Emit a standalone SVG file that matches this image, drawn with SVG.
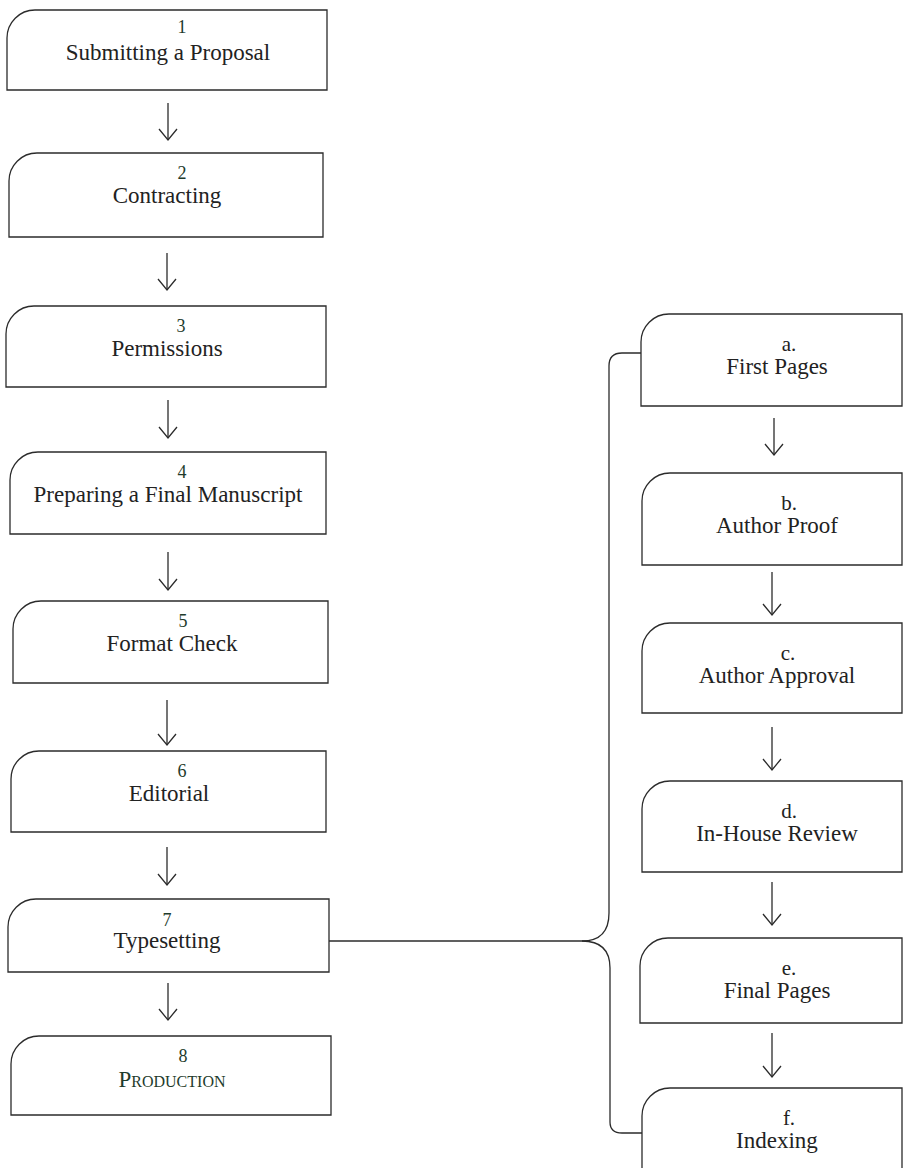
<svg xmlns="http://www.w3.org/2000/svg" width="903" height="1168" viewBox="0 0 903 1168">
<defs>
<style>
.box{fill:#fff;stroke:#2b2b2b;stroke-width:1.3}
.lbl{font-family:"Liberation Serif",serif;font-size:23px;fill:#222;text-anchor:middle}
.num{font-family:"Liberation Serif",serif;font-size:18px;fill:#1e3b2c;text-anchor:middle}
.let{font-family:"Liberation Serif",serif;font-size:21px;fill:#222;text-anchor:middle}
.sc{font-variant:small-caps;fill:#1e3b2c}
.conn{fill:none;stroke:#2b2b2b;stroke-width:1.3}
</style>
<marker id="ah" markerUnits="userSpaceOnUse" markerWidth="16" markerHeight="20" refX="14" refY="10" orient="auto" viewBox="0 0 16 20">
<path d="M3,1 L14,10 L3,19" fill="none" stroke="#2b2b2b" stroke-width="1.3"/>
</marker>
</defs>
<rect width="903" height="1168" fill="#fff"/>

<g id="connectors">
<line class="conn" x1="168" y1="103" x2="168" y2="140" marker-end="url(#ah)"/>
<line class="conn" x1="167" y1="253" x2="167" y2="290" marker-end="url(#ah)"/>
<line class="conn" x1="168" y1="400" x2="168" y2="438" marker-end="url(#ah)"/>
<line class="conn" x1="168" y1="552" x2="168" y2="590" marker-end="url(#ah)"/>
<line class="conn" x1="167" y1="700" x2="167" y2="745" marker-end="url(#ah)"/>
<line class="conn" x1="167" y1="847" x2="167" y2="885" marker-end="url(#ah)"/>
<line class="conn" x1="168" y1="983" x2="168" y2="1020" marker-end="url(#ah)"/>
<line class="conn" x1="774" y1="418" x2="774" y2="455" marker-end="url(#ah)"/>
<line class="conn" x1="772" y1="572" x2="772" y2="615" marker-end="url(#ah)"/>
<line class="conn" x1="772" y1="727" x2="772" y2="770" marker-end="url(#ah)"/>
<line class="conn" x1="772" y1="882" x2="772" y2="925" marker-end="url(#ah)"/>
<line class="conn" x1="772" y1="1033" x2="772" y2="1077" marker-end="url(#ah)"/>
<path class="conn" d="M329,941 L582,941"/>
<path class="conn" d="M641,353 L622,353 Q609,353 609,366 L609,913 Q609,941 582,941"/>
<path class="conn" d="M582,941 Q610,941 610,968 L610,1122 Q610,1133 622,1133 L642,1133"/>
</g>

<g id="n1"><path class="box" d="M7,90 L7,38 A28,28 0 0 1 35,10 L327,10 L327,90 Z"/><text class="num" x="182" y="33">1</text><text class="lbl" x="168" y="60">Submitting a Proposal</text></g>
<g id="n2"><path class="box" d="M9,237 L9,181 A28,28 0 0 1 37,153 L323,153 L323,237 Z"/><text class="num" x="182" y="179">2</text><text class="lbl" x="167" y="203">Contracting</text></g>
<g id="n3"><path class="box" d="M6,387 L6,334 A28,28 0 0 1 34,306 L326,306 L326,387 Z"/><text class="num" x="181" y="332">3</text><text class="lbl" x="167" y="356">Permissions</text></g>
<g id="n4"><path class="box" d="M10,534 L10,480 A28,28 0 0 1 38,452 L326,452 L326,534 Z"/><text class="num" x="182" y="478">4</text><text class="lbl" x="168" y="502">Preparing a Final Manuscript</text></g>
<g id="n5"><path class="box" d="M13,683 L13,629 A28,28 0 0 1 41,601 L328,601 L328,683 Z"/><text class="num" x="183" y="627">5</text><text class="lbl" x="172" y="651">Format Check</text></g>
<g id="n6"><path class="box" d="M11,832 L11,779 A28,28 0 0 1 39,751 L326,751 L326,832 Z"/><text class="num" x="182" y="777">6</text><text class="lbl" x="169" y="801">Editorial</text></g>
<g id="n7"><path class="box" d="M8,972 L8,927 A28,28 0 0 1 36,899 L329,899 L329,972 Z"/><text class="num" x="167" y="926">7</text><text class="lbl" x="167" y="948">Typesetting</text></g>
<g id="n8"><path class="box" d="M11,1115 L11,1064 A28,28 0 0 1 39,1036 L331,1036 L331,1115 Z"/><text class="num" x="183" y="1062">8</text><text class="lbl sc" x="172" y="1087">Production</text></g>

<g id="na"><path class="box" d="M641,406 L641,342 A28,28 0 0 1 669,314 L902,314 L902,406 Z"/><text class="let" x="789" y="351">a.</text><text class="lbl" x="777" y="374">First Pages</text></g>
<g id="nb"><path class="box" d="M642,565 L642,501 A28,28 0 0 1 670,473 L902,473 L902,565 Z"/><text class="let" x="789" y="510">b.</text><text class="lbl" x="777" y="533">Author Proof</text></g>
<g id="nc"><path class="box" d="M642,713 L642,651 A28,28 0 0 1 670,623 L902,623 L902,713 Z"/><text class="let" x="788" y="660">c.</text><text class="lbl" x="777" y="683">Author Approval</text></g>
<g id="nd"><path class="box" d="M642,872 L642,809 A28,28 0 0 1 670,781 L902,781 L902,872 Z"/><text class="let" x="789" y="818">d.</text><text class="lbl" x="777" y="841">In-House Review</text></g>
<g id="ne"><path class="box" d="M640,1023 L640,966 A28,28 0 0 1 668,938 L902,938 L902,1023 Z"/><text class="let" x="789" y="975">e.</text><text class="lbl" x="777" y="998">Final Pages</text></g>
<g id="nf"><path class="box" d="M642,1180 L642,1116 A28,28 0 0 1 670,1088 L902,1088 L902,1180 Z"/><text class="let" x="789" y="1125">f.</text><text class="lbl" x="777" y="1148">Indexing</text></g>
</svg>
